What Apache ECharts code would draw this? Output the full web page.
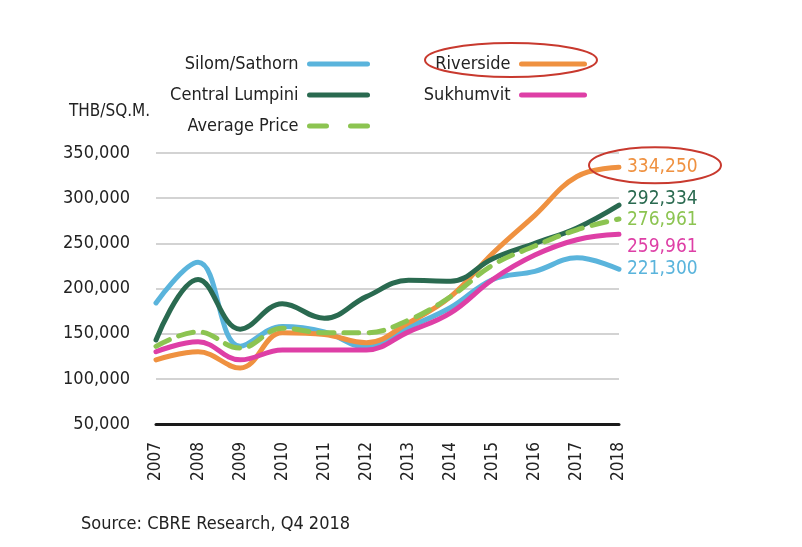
<!DOCTYPE html>
<html>
<head>
<meta charset="utf-8">
<script src="https://cdn.jsdelivr.net/npm/echarts@6/dist/echarts.min.js"></script>
<style>
  html, body { margin: 0; padding: 0; background: #fff; }
  #chart { width: 802px; height: 547px; }
</style>
</head>
<body>
<div id="chart"></div>
<script>
const years = ['2007', '2008', '2009', '2010', '2011', '2012', '2013', '2014', '2015', '2016', '2017', '2018'];
const silom = [184000, 229000, 136000, 158000, 152000, 135000, 157000, 179000, 210000, 219000, 234000, 221300];
const riverside = [121000, 130000, 112000, 151000, 149000, 140000, 162000, 191000, 239000, 281000, 324000, 334250];
const lumpini = [143000, 210000, 155000, 183000, 167000, 191000, 209000, 208000, 233000, 250000, 267000, 292334];
const sukhumvit = [130000, 141000, 121000, 132000, 132000, 132000, 152000, 173000, 210000, 237000, 254000, 259961];
const average = [136000, 152000, 134000, 156000, 151000, 151000, 165000, 191000, 226000, 247000, 265000, 276961];
const yTicks = [50000, 350000, 50000]; // min, max, step

const FONT = '"Liberation Sans Narrow", "DejaVu Sans Condensed", sans-serif';
const fmt = (v) => v.toLocaleString('en-US');

const chart = echarts.init(document.getElementById('chart'));

const endLabel = (color, offset) => ({
  show: true,
  distance: 8,
  offset: offset,
  color: color,
  fontFamily: FONT,
  fontSize: 19,
  formatter: (p) => fmt(p.value),
});

// 折线公共配置
const makeLine = (name, data, color, offset, dash) => ({
  name: name,
  type: 'line',
  data: data,
  smooth: 0.4,
  symbol: 'none',
  lineStyle: { width: 5, color: color, cap: 'round', type: dash || 'solid' },
  itemStyle: { color: color },
  endLabel: endLabel(color, offset),
  z: 3,
});

const legendBase = {
  orient: 'vertical',
  align: 'right',
  top: 50,
  itemHeight: 14,
  itemGap: 13,
  itemStyle: { opacity: 0 },
  lineStyle: { width: 5 },
  textStyle: { fontFamily: FONT, fontSize: 18, color: '#222', padding: [0, 6, 0, 0] },
};

const option = {
  animation: false,
  backgroundColor: '#fff',
  title: [
    {
      text: 'THB/SQ.M.',
      left: 64,
      top: 98,
      textStyle: { fontFamily: FONT, fontSize: 17, fontWeight: 'normal', color: '#222' },
    },
    {
      text: 'Source: CBRE Research, Q4 2018',
      left: 76,
      top: 510,
      textStyle: { fontFamily: FONT, fontSize: 18, fontWeight: 'normal', color: '#222' },
    },
  ],
  legend: [
    Object.assign({}, legendBase, {
      data: ['Silom/Sathorn', 'Central Lumpini', { name: 'Average Price', lineStyle: { type: [17, 24] } }],
      right: 427,
      itemWidth: 58,
    }),
    Object.assign({}, legendBase, {
      data: ['Riverside', 'Sukhumvit'],
      right: 210,
      itemWidth: 63,
    }),
  ],
  grid: { left: 156, right: 183, top: 153, bottom: 123 },
  xAxis: {
    type: 'category',
    data: years,
    boundaryGap: false,
    axisLine: { lineStyle: { color: '#1a1a1a', width: 3 } },
    axisTick: { show: false },
    axisLabel: {
      rotate: 90,
      margin: 18,
      fontFamily: FONT,
      fontSize: 17,
      color: '#222',
    },
  },
  yAxis: {
    type: 'value',
    min: yTicks[0],
    max: yTicks[1],
    interval: yTicks[2],
    axisLine: { show: false },
    axisTick: { show: false },
    splitLine: { lineStyle: { color: '#c4c4c4', width: 1.5 } },
    axisLabel: {
      margin: 26,
      fontFamily: FONT,
      fontSize: 18,
      color: '#222',
      formatter: (v) => fmt(v),
    },
  },
  series: [
    makeLine('Silom/Sathorn', silom, '#5ab4dc', [0, 0]),
    makeLine('Riverside', riverside, '#ef9140', [0, 0]),
    makeLine('Central Lumpini', lumpini, '#2a6a50', [0, -6]),
    makeLine('Sukhumvit', sukhumvit, '#de3fa6', [0, 13]),
    makeLine('Average Price', average, '#8cc451', [0, 1], [15, 10]),
  ],
};

chart.setOption(option);

// 红色圈注：图例 Riverside 和 2018 年 Riverside 数值
const last = riverside.length - 1;
const pt = chart.convertToPixel({ seriesIndex: 1 }, [last, riverside[last]]);
chart.setOption({
  graphic: [
    {
      type: 'ellipse',
      shape: { cx: 511, cy: 60, rx: 86, ry: 17 },
      style: { fill: 'none', stroke: '#c8392e', lineWidth: 2 },
      z: 10,
    },
    {
      type: 'ellipse',
      shape: { cx: pt[0] + 36, cy: pt[1] - 2, rx: 66, ry: 18 },
      style: { fill: 'none', stroke: '#c8392e', lineWidth: 2 },
      z: 10,
    },
  ],
});
</script>
</body>
</html>
